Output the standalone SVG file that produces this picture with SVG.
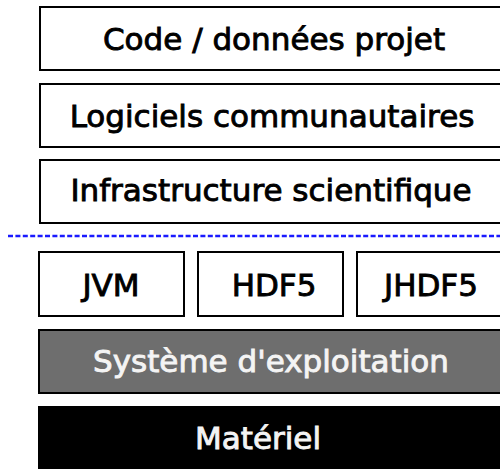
<svg xmlns="http://www.w3.org/2000/svg" width="500" height="469" viewBox="0 0 500 469">
  <style>
    .box { fill: #ffffff; stroke: #000000; stroke-width: 2; }
    .os { fill: #6e6e6e; stroke: #000000; stroke-width: 2; }
    .hw { fill: #000000; stroke: #000000; stroke-width: 2; }
    .lbl { font-family: "DejaVu Sans", sans-serif; font-size: 31px; text-anchor: middle; fill: #000000; stroke: #000000; stroke-width: 0.9; }
    .inv { fill: #f4f4f4; stroke: #f4f4f4; }
    .sep { stroke: #1a1aff; stroke-width: 2.5; stroke-dasharray: 5 2.4; fill: none; }
  </style>
  <rect width="500" height="469" fill="#ffffff"/>

  <g id="code-projet">
    <rect class="box" x="40" y="7" width="470" height="63"/>
    <text class="lbl" x="274" y="50">Code / données projet</text>
  </g>
  <g id="logiciels">
    <rect class="box" x="40" y="84" width="470" height="63"/>
    <text class="lbl" x="272" y="127">Logiciels communautaires</text>
  </g>
  <g id="infrastructure">
    <rect class="box" x="40" y="160" width="470" height="63"/>
    <text class="lbl" x="271" y="201">Infrastructure scientifique</text>
  </g>

  <g id="connectors">
    <line class="sep" x1="8" y1="236" x2="500" y2="236"/>
  </g>

  <g id="jvm">
    <rect class="box" x="39" y="252" width="145" height="64"/>
    <text class="lbl" x="111" y="296">JVM</text>
  </g>
  <g id="hdf5">
    <rect class="box" x="198" y="252" width="145" height="64"/>
    <text class="lbl" x="274" y="296">HDF5</text>
  </g>
  <g id="jhdf5">
    <rect class="box" x="357" y="252" width="150" height="64"/>
    <text class="lbl" x="431" y="296">JHDF5</text>
  </g>
  <g id="systeme">
    <rect class="os" x="39" y="330" width="470" height="63"/>
    <text class="lbl inv" x="271" y="372">Système d'exploitation</text>
  </g>
  <g id="materiel">
    <rect class="hw" x="39" y="407" width="470" height="70"/>
    <text class="lbl inv" x="258" y="449">Matériel</text>
  </g>
</svg>
